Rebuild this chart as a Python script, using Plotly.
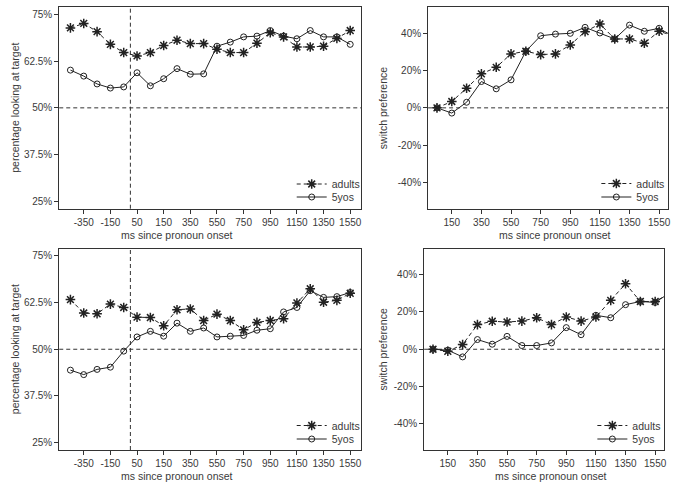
import plotly.graph_objects as go

# ---------------- data ----------------
# time-bin index (x positions) for the "percentage looking at target" panels
bins_left = list(range(22))
# time-bin index for the "switch preference" panels (last bin lies beyond the plotted window)
bins_right = list(range(17))

tick_bins_left = [1, 3, 5, 7, 9, 11, 13, 15, 17, 19, 21]
tick_text_left = ["-350", "-150", "50", "150", "350", "550", "750", "950", "1150", "1350", "1550"]
tick_bins_right = [1, 3, 5, 7, 9, 11, 13, 15]
tick_text_right = ["150", "350", "550", "750", "950", "1150", "1350", "1550"]

pct_ticks = [25, 37.5, 50, 62.5, 75]
pct_text = ["25%", "37.5%", "50%", "62.5%", "75%"]
sw_ticks = [-40, -20, 0, 20, 40]
sw_text = ["-40%", "-20%", "0%", "20%", "40%"]

# top-left panel: percentage looking at target
top_adults = [71.4, 72.6, 70.4, 67.0, 64.8, 63.9, 64.8, 66.7, 68.1, 67.2, 67.2,
              65.7, 64.8, 64.8, 67.3, 70.1, 69.0, 66.3, 66.3, 66.5, 68.6, 70.7]
top_5yos = [60.1, 58.5, 56.4, 55.3, 55.6, 59.4, 55.9, 57.8, 60.5, 59.0, 59.1,
            66.5, 67.6, 69.0, 69.2, 70.7, 69.2, 68.5, 70.7, 69.0, 69.0, 67.0]

# top-right panel: switch preference
top_sw_adults = [0.0, 3.4, 10.5, 18.2, 21.7, 28.9, 30.3, 28.5, 28.9, 33.7, 40.8,
                 44.9, 36.9, 36.9, 34.6, 41.0, 38.5]
top_sw_5yos = [0.0, -2.8, 3.0, 14.1, 10.2, 15.0, 30.3, 38.6, 39.5, 39.9, 43.1,
               40.1, 36.9, 44.3, 41.0, 42.6, 38.0]

# bottom-left panel: percentage looking at target
bot_adults = [63.3, 59.7, 59.5, 62.1, 61.2, 58.6, 58.5, 56.3, 60.6, 60.8, 57.7,
              59.4, 57.7, 55.2, 57.2, 57.7, 58.2, 62.4, 66.2, 62.6, 63.1, 65.0]
bot_5yos = [44.4, 43.2, 44.6, 45.2, 49.5, 53.3, 54.8, 53.5, 57.0, 54.8, 55.7,
            53.3, 53.5, 53.7, 55.1, 55.5, 60.0, 61.2, 65.7, 63.9, 64.1, 65.2]

# bottom-right panel: switch preference
bot_sw_adults = [0.0, -1.1, 2.5, 13.2, 15.0, 14.6, 15.1, 16.9, 13.2, 17.3, 15.1,
                 17.3, 26.2, 35.1, 25.6, 25.6, 30.0]
bot_sw_5yos = [0.0, -0.5, -4.1, 5.2, 2.7, 6.9, 2.0, 2.0, 3.4, 11.6, 7.8,
               18.2, 16.9, 23.9, 25.6, 25.1, 30.3]

onset_bin = 4.5  # pronoun onset (vertical dashed line in left panels)

# ---------------- figure ----------------
W, H = 678, 492
INK = "#222222"
AX = "#333333"
TXT = "#3a3a3a"
FONT = "Liberation Sans, Arial, Helvetica, sans-serif"

def px_dom_x(a, b):
    return [a / W, b / W]

def px_dom_y(top, bottom):
    return [1 - bottom / H, 1 - top / H]

panels = [
    dict(xd=px_dom_x(59.5, 363), yd=px_dom_y(7, 208.7), a=top_adults, k=top_5yos, x=bins_left,
         kind="pct", leg_x=331, leg_y=(184, 197)),
    dict(xd=px_dom_x(430, 671), yd=px_dom_y(7, 208.7), a=top_sw_adults, k=top_sw_5yos, x=bins_right,
         kind="sw", leg_x=637, leg_y=(183.5, 197)),
    dict(xd=px_dom_x(59.5, 363), yd=px_dom_y(248.5, 450), a=bot_adults, k=bot_5yos, x=bins_left,
         kind="pct", leg_x=331, leg_y=(425.5, 439)),
    dict(xd=px_dom_x(426, 667), yd=px_dom_y(248.5, 450), a=bot_sw_adults, k=bot_sw_5yos, x=bins_right,
         kind="sw", leg_x=633, leg_y=(425.5, 439)),
]

fig = go.Figure()
layout = dict(
    width=W, height=H,
    margin=dict(l=0, r=0, t=0, b=0),
    paper_bgcolor="white", plot_bgcolor="white",
    font=dict(family=FONT, size=10, color=TXT),
    showlegend=True,
)
annotations = []
shapes = []

for i, p in enumerate(panels, start=1):
    xa = "x" if i == 1 else f"x{i}"
    ya = "y" if i == 1 else f"y{i}"
    leg_a_idx = 2 * i - 1
    leg_k_idx = 2 * i
    leg_a = "legend" if leg_a_idx == 1 else f"legend{leg_a_idx}"
    leg_k = f"legend{leg_k_idx}"
    fig.add_trace(go.Scatter(
        x=p["x"], y=p["a"], xaxis=xa, yaxis=ya, name="adults", legend=leg_a,
        mode="lines+markers",
        line=dict(color=INK, width=1, dash="4px,3px"),
        marker=dict(symbol="asterisk-open", size=8, line=dict(color=INK, width=1.5)),
    ))
    fig.add_trace(go.Scatter(
        x=p["x"], y=p["k"], xaxis=xa, yaxis=ya, name="5yos", legend=leg_k,
        mode="lines+markers",
        line=dict(color=INK, width=1),
        marker=dict(symbol="circle-open", size=6, line=dict(color=INK, width=1)),
    ))

    if p["kind"] == "pct":
        xr = [-0.84, 21.84]
        tv, tt = tick_bins_left, tick_text_left
        yr = [23, 77]
        ytv, ytt = pct_ticks, pct_text
        ref = 50
        ytitle = "percentage looking at target"
    else:
        xr = [-0.6, 15.6]
        tv, tt = tick_bins_right, tick_text_right
        yr = [-54, 54]
        ytv, ytt = sw_ticks, sw_text
        ref = 0
        ytitle = "switch preference"

    axkey = "xaxis" if i == 1 else f"xaxis{i}"
    aykey = "yaxis" if i == 1 else f"yaxis{i}"
    layout[axkey] = dict(
        domain=p["xd"], anchor=ya, range=xr, tickmode="array", tickvals=tv, ticktext=tt,
        showgrid=False, zeroline=False, showline=True, linecolor=AX, linewidth=1, mirror=True,
        ticks="outside", ticklen=4, tickcolor=AX, tickwidth=1,
        tickfont=dict(size=10, color=TXT, family=FONT), fixedrange=True,
    )
    layout[aykey] = dict(
        domain=p["yd"], anchor=xa, range=yr, tickmode="array", tickvals=ytv, ticktext=ytt,
        showgrid=False, zeroline=False, showline=True, linecolor=AX, linewidth=1, mirror=True,
        ticks="outside", ticklen=4, tickcolor=AX, tickwidth=1,
        tickfont=dict(size=10, color=TXT, family=FONT), fixedrange=True,
    )

    shapes.append(dict(type="line", xref=f"{xa} domain", yref=ya, x0=0, x1=1, y0=ref, y1=ref,
                       line=dict(color=AX, width=1, dash="4px,3px"), layer="below"))
    if p["kind"] == "pct":
        shapes.append(dict(type="line", xref=xa, yref=f"{ya} domain", x0=onset_bin, x1=onset_bin, y0=0, y1=1,
                           line=dict(color=AX, width=1, dash="4px,3px"), layer="below"))

    # one single-entry legend per series so the rows can sit close together
    for lk, yrow in ((leg_a, p["leg_y"][0]), (leg_k, p["leg_y"][1])):
        layout[lk] = dict(
            x=(p["leg_x"] - 38) / W, y=1 - yrow / H, xanchor="left", yanchor="middle",
            bgcolor="rgba(0,0,0,0)", borderwidth=0, font=dict(size=10.5, color=TXT, family=FONT),
            itemwidth=30, tracegroupgap=0,
        )

    ymid = (p["yd"][0] + p["yd"][1]) / 2
    xbot = p["yd"][0]
    if p["kind"] == "pct":
        xt_center = 178 / W
        yt_x = 15 / W
    else:
        xt_center = (557 if i == 2 else 553) / W
        yt_x = 385 / W
    annotations.append(dict(text="ms since pronoun onset", x=xt_center, y=xbot - 26 / H,
                            xref="paper", yref="paper", showarrow=False, xanchor="center", yanchor="middle",
                            font=dict(size=10.5, color=TXT, family=FONT)))
    annotations.append(dict(text=ytitle, x=yt_x, y=ymid, xref="paper", yref="paper", showarrow=False,
                            textangle=-90, xanchor="center", yanchor="middle",
                            font=dict(size=10.5, color=TXT, family=FONT)))

layout["annotations"] = annotations
layout["shapes"] = shapes
fig.update_layout(**layout)

fig.write_html("out.html", config={"displayModeBar": False},
               post_script="document.body.style.margin='0';document.body.style.overflow='hidden';")
